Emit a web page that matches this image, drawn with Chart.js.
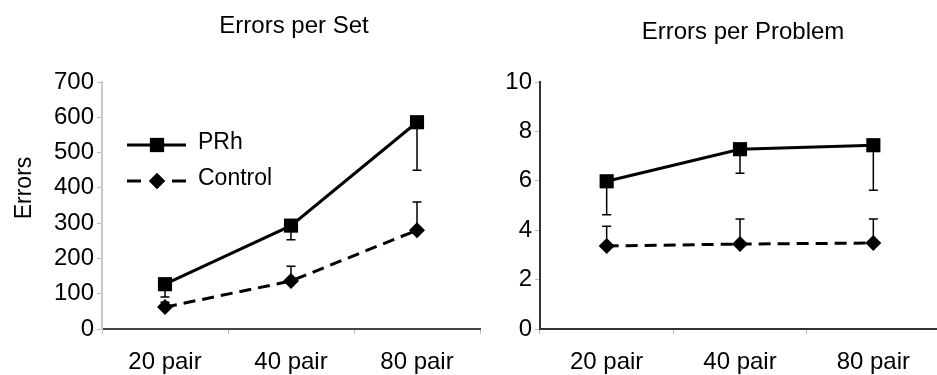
<!DOCTYPE html>
<html>
<head>
<meta charset="utf-8">
<script src="https://cdn.jsdelivr.net/npm/chart.js@4/dist/chart.umd.min.js"></script>
<style>
  html, body { margin: 0; padding: 0; background: #fff; overflow: hidden; }
  body { width: 937px; height: 375px; position: relative; }
  #setBox { position: absolute; left: 0; top: 0; width: 490px; height: 375px; }
  #probBox { position: absolute; left: 470px; top: 0; width: 480px; height: 375px; }
</style>
</head>
<body>
<div id="setBox"><canvas id="setChart"></canvas></div>
<div id="probBox"><canvas id="probChart"></canvas></div>
<script>
const categories = ['20 pair', '40 pair', '80 pair'];

// errors per set
const setPRh = [127, 293, 586];
const setPRhErr = [36, 40, 136];      // drawn downward
const setControl = [62, 136, 280];
const setControlErr = [14, 42, 80];   // drawn upward
const setTicks = [0, 100, 200, 300, 400, 500, 600, 700];

// errors per problem
const probPRh = [5.98, 7.28, 7.44];
const probPRhErr = [1.35, 0.97, 1.82];
const probControl = [3.36, 3.44, 3.48];
const probControlErr = [0.8, 1.01, 0.97];
const probTicks = [0, 2, 4, 6, 8, 10];

const FONT = '"Liberation Sans", Arial, Helvetica, sans-serif';

// error bars: PRh goes down, Control goes up
const errorBars = {
  id: 'errorBars',
  beforeDatasetsDraw(chart) {
    const ctx = chart.ctx;
    const y = chart.scales.y;
    ctx.save();
    ctx.strokeStyle = '#000';
    ctx.lineWidth = 1.5;
    chart.data.datasets.forEach((ds, i) => {
      const meta = chart.getDatasetMeta(i);
      meta.data.forEach((pt, j) => {
        const v = ds.data[j];
        const end = v + ds.errDir * ds.err[j];
        const yEnd = y.getPixelForValue(end);
        ctx.beginPath();
        ctx.moveTo(pt.x, pt.y);
        ctx.lineTo(pt.x, yEnd);
        ctx.moveTo(pt.x - 4.5, yEnd);
        ctx.lineTo(pt.x + 4.5, yEnd);
        ctx.stroke();
      });
    });
    ctx.restore();
  }
};

// titles and labels drawn as text
const extraText = {
  id: 'extraText',
  afterDraw(chart, args, opts) {
    const ctx = chart.ctx;
    ctx.save();
    ctx.fillStyle = '#000';
    ctx.font = '24px ' + FONT;
    ctx.textAlign = 'center';
    ctx.textBaseline = 'alphabetic';
    ctx.fillText(opts.title, opts.titleX, opts.titleY);
    if (opts.yLabel) {
      ctx.font = '23px ' + FONT;
      ctx.translate(31, 188);
      ctx.rotate(-Math.PI / 2);
      ctx.fillText(opts.yLabel, 0, 0);
      ctx.setTransform(1, 0, 0, 1, 0, 0);
    }
    if (opts.legend) {
      const ds = chart.data.datasets;
      const rows = [145, 181];
      ds.forEach((d, i) => {
        const ly = rows[i];
        ctx.strokeStyle = '#000';
        ctx.lineWidth = 3;
        ctx.beginPath();
        if (d.borderDash) {
          ctx.moveTo(127, ly); ctx.lineTo(141, ly);
          ctx.moveTo(172, ly); ctx.lineTo(186, ly);
        } else {
          ctx.moveTo(127, ly); ctx.lineTo(186, ly);
        }
        ctx.stroke();
        Chart.helpers.drawPoint(ctx, {
          pointStyle: d.pointStyle, radius: d.pointRadius, borderWidth: 0
        }, 157, ly);
        ctx.fillStyle = '#000';
        ctx.fill();
        ctx.font = '23px ' + FONT;
        ctx.textAlign = 'left';
        ctx.textBaseline = 'middle';
        ctx.fillText(d.label, 198, ly - 2);
      });
    }
    ctx.restore();
  }
};

function makeChart(id, prh, prhErr, ctl, ctlErr, ticks, step, yWidth, padRight, text) {
  return new Chart(document.getElementById(id), {
    type: 'line',
    data: {
      labels: categories,
      datasets: [
        {
          label: 'PRh',
          data: prh,
          err: prhErr,
          errDir: -1,
          borderColor: '#000',
          backgroundColor: '#000',
          borderWidth: 3,
          pointStyle: 'rect',
          pointRadius: 10,
          pointBorderWidth: 0,
          tension: 0
        },
        {
          label: 'Control',
          data: ctl,
          err: ctlErr,
          errDir: 1,
          borderColor: '#000',
          backgroundColor: '#000',
          borderWidth: 3,
          borderDash: [12, 7],
          pointStyle: 'rectRot',
          pointRadius: 8,
          pointBorderWidth: 0,
          tension: 0
        }
      ]
    },
    options: {
      responsive: true,
      maintainAspectRatio: false,
      animation: false,
      layout: { padding: { top: 82, right: padRight, left: 0, bottom: 0 } },
      plugins: {
        legend: { display: false },
        tooltip: { enabled: false },
        extraText: text
      },
      scales: {
        x: {
          offset: true,
          afterFit: s => { s.height = 46; },
          grid: { offset: true, drawOnChartArea: false, tickLength: 5, color: '#bbb' },
          border: { color: text.xAxisColor, width: 2 },
          ticks: { color: '#000', padding: 14, font: { size: 24, family: FONT } }
        },
        y: {
          min: ticks[0],
          max: ticks[ticks.length - 1],
          afterFit: s => { s.width = yWidth; },
          afterBuildTicks: s => { s.ticks = ticks.map(v => ({ value: v })); },
          grid: { drawOnChartArea: false, tickLength: 5, color: '#bbb' },
          border: { color: text.yAxisColor, width: 2 },
          ticks: { stepSize: step, color: '#000', padding: 3, font: { size: 24, family: FONT } }
        }
      }
    },
    plugins: [errorBars, extraText]
  });
}

makeChart('setChart', setPRh, setPRhErr, setControl, setControlErr, setTicks, 100, 102, 7, {
  title: 'Errors per Set', titleX: 294, titleY: 33, yLabel: 'Errors', legend: true,
  xAxisColor: '#444', yAxisColor: '#c8c8c8'
});

makeChart('probChart', probPRh, probPRhErr, probControl, probControlErr, probTicks, 2, 70, 10, {
  title: 'Errors per Problem', titleX: 273, titleY: 39, legend: false,
  xAxisColor: '#333', yAxisColor: '#333'
});
</script>
</body>
</html>
